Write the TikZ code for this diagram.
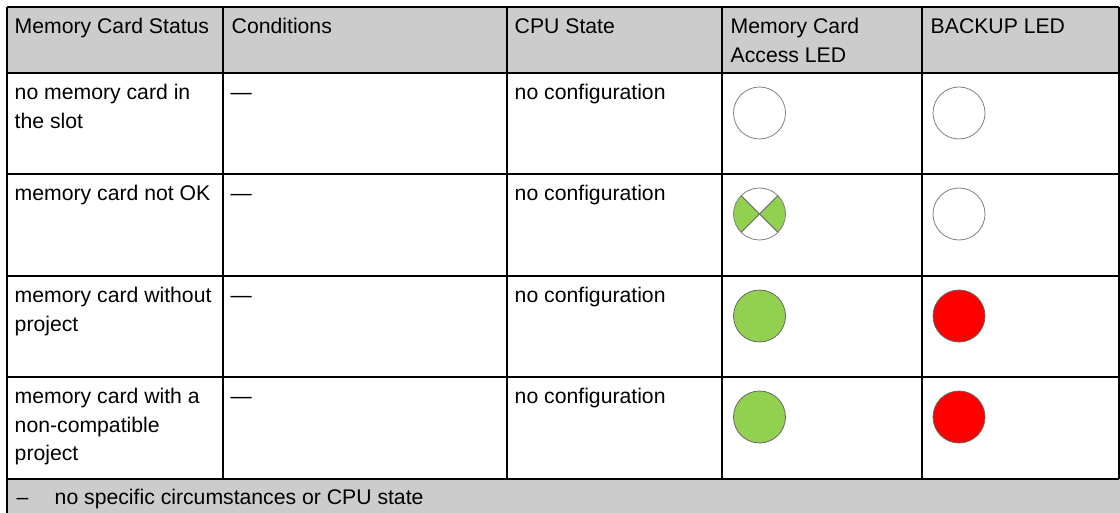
\documentclass[tikz,border=0pt]{standalone}
\usepackage{fontspec}
\setmainfont{Liberation Sans}
\definecolor{hdrgray}{HTML}{CCCCCC}
\definecolor{ledgreen}{HTML}{92D050}
\definecolor{ledred}{HTML}{FF0000}

\begin{document}
\begin{tikzpicture}[x=0.75pt, y=-0.75pt, line width=1.1pt,
  cell/.style={anchor=north west, inner sep=0pt, align=left,
    font=\fontsize{15.9}{21.4}\selectfont, execute at begin node=\strut},
  ledoff/.style={draw=gray, fill=white, line width=0.6pt},
  ledon/.style={draw=black!60, line width=0.6pt}]
\useasboundingbox (0,0) rectangle (1120,513);
\fill[hdrgray] (7,7) rectangle (1119,73);
\fill[hdrgray] (7,479) rectangle (1120,513);
\foreach \y in {7,73,174,276,377,479}
  \draw(7,\y) -- (1119,\y);
\foreach \x in {223,507,722,922}
  \draw(\x,7) -- (\x,479);
\draw(7,7) -- (7,513);
\draw(1119,7) -- (1119,479);
\node[cell] (hstat) at (14,13) {Memory Card Status};
\node[cell] (hcond) at (231,13) {Conditions};
\node[cell] (hcpu) at (514,13) {CPU State};
\node[cell] (hacc) at (730,13) {\strut Memory Card\\Access LED};
\node[cell] (hbak) at (930,13) {BACKUP LED};
\foreach \y/\stat [count=\i] in {79/{no memory card in\\the slot}, 180/{memory card not OK},
    282/{memory card without\\project}, 383/{memory card with a\\non-compatible\\project}} {
  \node[cell] (stat\i) at (14,\y) {\strut\stat};
  \node[cell] (cond\i) at (230,\y) {\textemdash};
  \node[cell] (cpu\i) at (514,\y) {no configuration};
  \coordinate (acc\i) at (759.5,\y+34);
  \coordinate (bak\i) at (959,\y+34);
}
\draw[ledoff] (acc1) circle [radius=26];
\fill[white] (acc2) circle [radius=26];
\fill[ledgreen] (acc2) -- ++(135:26) arc[start angle=135, end angle=225, radius=26] -- cycle;
\fill[ledgreen] (acc2) -- ++(-45:26) arc[start angle=-45, end angle=45, radius=26] -- cycle;
\draw[ledon] (acc2) ++(45:26) -- ++(225:52);
\draw[ledon] (acc2) ++(135:26) -- ++(-45:52);
\draw[ledoff, fill=none] (acc2) circle [radius=26];
\draw[ledon, fill=ledgreen] (acc3) circle [radius=26];
\draw[ledon, fill=ledgreen] (acc4) circle [radius=26];
\draw[ledoff] (bak1) circle [radius=26];
\draw[ledoff] (bak2) circle [radius=26];
\draw[ledon, fill=ledred] (bak3) circle [radius=26];
\draw[ledon, fill=ledred] (bak4) circle [radius=26];
\node[cell] (fdash) at (16,484) {\textendash};
\node[cell] (fnote) at (54,484) {no specific circumstances or CPU state};
\end{tikzpicture}
\end{document}
